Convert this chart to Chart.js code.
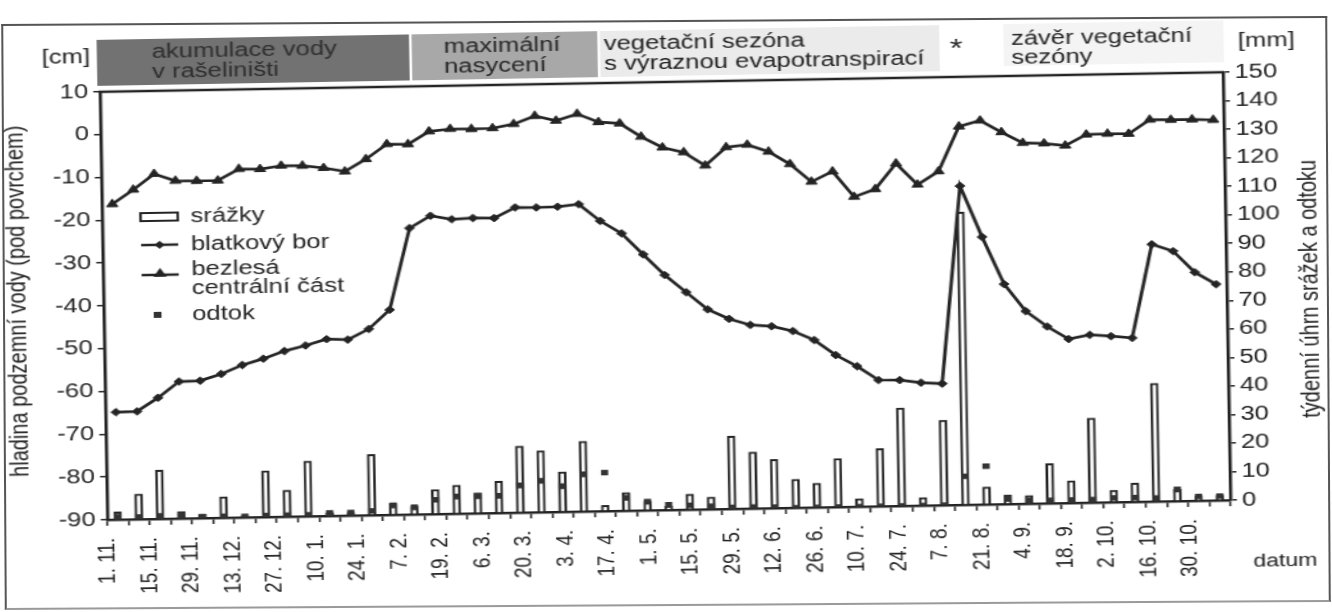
<!DOCTYPE html>
<html lang="cs">
<head>
<meta charset="utf-8">
<title>Hladina podzemní vody, srážky a odtok</title>
<script src="https://cdn.jsdelivr.net/npm/chart.js@4.4.1/dist/chart.umd.min.js"></script>
<style>
  html, body { margin: 0; padding: 0; background: #fff; overflow: hidden; }
  #page { position: relative; width: 1332px; height: 612px; overflow: hidden; background: #fff; }
  #frame { position: absolute; left: 3px; top: 20px; width: 1322px; height: 582px;
           border: 2px solid #555; border-bottom-color: #9a9a9a; transform: rotate(-0.35deg); }
  #tilt { position: absolute; left: 0; top: 0; width: 1332px; height: 612px;
          transform: rotate(-1deg); transform-origin: 666px 306px; }
  #chart { display: block; }
</style>
</head>
<body>
<div id="page">
  <div id="frame"></div>
  <div id="tilt">
    <canvas id="chart" width="1040" height="612" style="width:1332px;height:612px"></canvas>
  </div>
</div>
<script>
// weekly observation dates
const weeks = [
  '1. 11.', '8. 11.', '15. 11.', '22. 11.', '29. 11.', '6. 12.', '13. 12.', '20. 12.', '27. 12.',
  '3. 1.', '10. 1.', '17. 1.', '24. 1.', '31. 1.', '7. 2.', '13. 2.', '19. 2.', '26. 2.', '6. 3.',
  '13. 3.', '20. 3.', '27. 3.', '3. 4.', '10. 4.', '17. 4.', '24. 4.', '1. 5.', '8. 5.', '15. 5.',
  '22. 5.', '29. 5.', '5. 6.', '12. 6.', '19. 6.', '26. 6.', '3. 7.', '10. 7.', '17. 7.', '24. 7.',
  '31. 7.', '7. 8.', '14. 8.', '21. 8.', '28. 8.', '4. 9.', '11. 9.', '18. 9.', '25. 9.', '2. 10.',
  '9. 10.', '16. 10.', '23. 10.', '30. 10.'
];
// dates printed along the time axis
const dateTicks = [
  '1. 11.', '15. 11.', '29. 11.', '13. 12.', '27. 12.', '10. 1.', '24. 1.', '7. 2.', '19. 2.',
  '6. 3.', '20. 3.', '3. 4.', '17. 4.', '1. 5.', '15. 5.', '29. 5.', '12. 6.', '26. 6.',
  '10. 7.', '24. 7.', '7. 8.', '21. 8.', '4. 9.', '18. 9.', '2. 10.', '16. 10.', '30. 10.'
];

// groundwater level below surface [cm]
const blatkovyBor = [
  -64.9, -64.8, -61.7, -58.0, -57.9, -56.4, -54.4, -53.0, -51.3, -50.1, -48.7, -48.9, -46.5,
  -42.1, -23.1, -20.3, -21.2, -21.0, -21.1, -18.7, -18.8, -18.7, -18.2, -22.2, -25.2, -30.2,
  -35.1, -39.2, -43.3, -45.6, -47.1, -47.5, -48.7, -50.9, -54.5, -57.2, -60.5, -60.6, -61.3,
  -61.6, -15.5, -27.5, -38.6, -45.0, -48.7, -51.7, -50.8, -51.2, -51.7, -29.9, -31.6, -36.6, -39.5
];
const bezlesaCast = [
  -16.3, -13.0, -9.4, -11.1, -11.2, -11.2, -8.6, -8.7, -8.0, -8.1, -8.7, -9.6, -6.8,
  -3.4, -3.5, -0.6, -0.1, -0.2, -0.1, 0.8, 2.6, 1.4, 2.9, 0.9, 0.5, -2.7,
  -5.3, -6.5, -9.7, -5.5, -5.0, -6.7, -9.7, -13.9, -11.6, -17.6, -15.9, -10.0, -15.0,
  -12.0, -1.6, -0.3, -3.1, -5.7, -5.9, -6.5, -4.0, -3.9, -4.0, -0.8, -0.9, -0.9, -1.1
];

// weekly totals [mm]
const srazky = [
  2.7, 8.8, 17.1, 2.4, 1.3, 7.3, 0.5, 16.2, 9.3, 19.3, 1.1, 1.1, 21.3,
  4.0, 2.9, 8.6, 10.0, 7.2, 11.1, 23.3, 21.5, 14.0, 24.6, 2.0, 6.4, 3.2,
  1.4, 5.4, 4.3, 25.5, 19.8, 17.1, 10.0, 8.5, 17.0, 2.8, 20.2, 34.3, 2.8,
  29.8, 102.6, 6.1, 3.2, 2.9, 13.9, 7.8, 29.6, 4.2, 6.5, 41.4, 4.1, 1.8, 1.8
];
const odtok = [
  1.0, 0.8, 1.0, 1.0, 0.5, 0.5, 0.3, 0.5, 0.5, 0.5, 1.0, 1.0, 1.5,
  3.3, 2.5, 5.0, 6.0, 6.0, 6.0, 9.5, 11.0, 9.0, 13.0, 13.5, 4.5, 3.0,
  1.8, 1.5, 1.0, 0.5, 0.5, 0.3, 0, 0, 0, 0, 0, 0, 0,
  0, 10.0, 13.4, 1.8, 1.2, 1.0, 1.0, 1.0, 1.5, 1.5, 1.2, 4.1, 1.5, 1.5
];

// axis ranges
const cmRange = { min: -90, max: 10, step: 10 };
const mmRange = { min: 0, max: 150, step: 10 };

// season bands above the plot
const seasons = [
  { lines: ['akumulace vody', 'v rašeliništi'], x0: 79, x1: 323, tx: 122, fill: '#727272', ink: '#2e2e2e' },
  { lines: ['maximální', 'nasycení'], x0: 325, x1: 470, tx: 350, fill: '#a8a8a8', ink: '#262626' },
  { lines: ['vegetační sezóna', 's výraznou evapotranspirací'], x0: 472, x1: 737, tx: 475, fill: '#ebebeb', ink: '#222' }
];

const FONT = '"Liberation Sans", Arial, Helvetica, sans-serif';
const INK = '#242424';

function triangle(ctx, x, y, r) {
  ctx.beginPath();
  ctx.moveTo(x, y - r);
  ctx.lineTo(x + r * 0.866, y + r * 0.5);
  ctx.lineTo(x - r * 0.866, y + r * 0.5);
  ctx.closePath();
  ctx.fill();
}
function diamond(ctx, x, y, r) {
  ctx.beginPath();
  ctx.moveTo(x, y - r); ctx.lineTo(x + r, y); ctx.lineTo(x, y + r); ctx.lineTo(x - r, y);
  ctx.closePath();
  ctx.fill();
}

const decor = {
  id: 'decor',
  beforeDraw(chart) {
    const ctx = chart.ctx;
    ctx.save();
    ctx.textBaseline = 'middle';
    ctx.font = '20px ' + FONT;
    // season header
    seasons.forEach(s => {
      ctx.fillStyle = s.fill;
      ctx.fillRect(s.x0, 30, s.x1 - s.x0, 46);
      ctx.fillStyle = s.ink;
      ctx.textAlign = 'left';
      ctx.fillText(s.lines[0], s.tx, 43);
      ctx.fillText(s.lines[1], s.tx, 63);
    });
    ctx.fillStyle = '#f4f4f4';
    ctx.fillRect(787, 30, 172, 42);
    ctx.fillStyle = INK;
    ctx.fillText('závěr vegetační', 793, 45);
    ctx.fillText('sezóny', 793, 64);
    ctx.font = '26px ' + FONT;
    ctx.textAlign = 'center';
    ctx.fillText('*', 750, 55);
    ctx.font = '20px ' + FONT;
    ctx.textAlign = 'left';
    ctx.fillText('[cm]', 36, 47);
    ctx.fillText('[mm]', 970, 51);
    ctx.restore();
  },
  afterDraw(chart) {
    const ctx = chart.ctx;
    const a = chart.chartArea;
    ctx.save();
    // closing line along the top of the plot
    ctx.strokeStyle = INK;
    ctx.lineWidth = 2.5;
    ctx.beginPath();
    ctx.moveTo(a.left - 1, a.top);
    ctx.lineTo(a.right + 1, a.top);
    ctx.stroke();

    // legend inside the plot
    ctx.font = '20px ' + FONT;
    ctx.textBaseline = 'middle';
    ctx.textAlign = 'left';
    ctx.fillStyle = '#fff';
    ctx.lineWidth = 2;
    ctx.fillRect(111, 204, 29, 8);
    ctx.strokeRect(111, 204, 29, 8);
    ctx.lineWidth = 2.5;
    ctx.beginPath(); ctx.moveTo(111, 236); ctx.lineTo(140, 236); ctx.stroke();
    ctx.beginPath(); ctx.moveTo(111, 266); ctx.lineTo(140, 266); ctx.stroke();
    ctx.fillStyle = INK;
    diamond(ctx, 125.5, 236, 4);
    triangle(ctx, 125.5, 265, 6);
    ctx.fillStyle = '#333';
    ctx.fillRect(120, 303, 6, 6);
    ctx.fillStyle = INK;
    ctx.fillText('srážky', 150, 208);
    ctx.fillText('blatkový bor', 150, 236);
    ctx.fillText('bezlesá', 150, 261);
    ctx.fillText('centrální část', 150, 280);
    ctx.fillText('odtok', 150, 306);

    // axis titles
    ctx.font = '20px ' + FONT;
    ctx.textAlign = 'center';
    ctx.save();
    ctx.translate(14, 290);
    ctx.rotate(-Math.PI / 2);
    ctx.fillText('hladina podzemní vody (pod povrchem)', 0, 0);
    ctx.restore();
    ctx.save();
    ctx.translate(1023, 300);
    ctx.rotate(-Math.PI / 2);
    ctx.fillText('týdenní úhrn srážek a odtoku', 0, 0);
    ctx.restore();
    ctx.textAlign = 'left';
    ctx.font = '18px ' + FONT;
    ctx.fillText('datum', 975, 572);
    ctx.restore();
  }
};

const tickFont = { family: FONT, size: 20 };

new Chart(document.getElementById('chart'), {
  type: 'bar',
  data: {
    labels: weeks,
    datasets: [
      {
        type: 'line', label: 'blatkový bor', data: blatkovyBor, yAxisID: 'yCm',
        borderColor: INK, backgroundColor: INK, borderWidth: 2.7, tension: 0,
        pointStyle: 'rectRot', pointRadius: 3.8, pointBorderWidth: 1,
        pointBackgroundColor: INK, pointBorderColor: INK, order: 1
      },
      {
        type: 'line', label: 'bezlesá centrální část', data: bezlesaCast, yAxisID: 'yCm',
        borderColor: INK, backgroundColor: INK, borderWidth: 2.7, tension: 0,
        pointStyle: 'triangle', pointRadius: 5, pointBorderWidth: 1,
        pointBackgroundColor: INK, pointBorderColor: INK, order: 1
      },
      {
        type: 'bar', label: 'srážky', data: srazky, yAxisID: 'yMm',
        backgroundColor: '#ffffff', borderColor: INK, borderWidth: 2,
        barThickness: 6, order: 3
      },
      {
        type: 'line', label: 'odtok', data: odtok, yAxisID: 'yMm', showLine: false,
        pointStyle: 'rect', pointRadius: 4, pointBorderWidth: 0,
        pointBackgroundColor: '#333', borderColor: '#333', order: 0
      }
    ]
  },
  options: {
    responsive: false,
    animation: false,
    devicePixelRatio: 1,
    layout: { padding: { top: 82, left: 0, right: 0, bottom: 0 } },
    plugins: { legend: { display: false }, tooltip: { enabled: false } },
    scales: {
      x: {
        type: 'category', offset: true, weight: 0,
        grid: { display: true, drawOnChartArea: false, offset: true, tickLength: 6, color: INK, lineWidth: 1.5 },
        border: { display: true, color: INK, width: 2.5 },
        ticks: { display: false },
        afterFit(s) { s.height = 8; }
      },
      xDates: {
        type: 'category', position: 'bottom', labels: dateTicks, offset: true, weight: 1,
        grid: { display: false },
        border: { display: false },
        ticks: {
          autoSkip: false, minRotation: 90, maxRotation: 90, padding: 2, labelOffset: -16,
          color: INK, font: { family: FONT, size: 19 }
        },
        afterFit(s) { s.height = 94; }
      },
      yCm: {
        position: 'left', min: cmRange.min, max: cmRange.max,
        ticks: { stepSize: cmRange.step, color: INK, font: tickFont, padding: 4 },
        grid: { drawOnChartArea: false, tickLength: 5, color: INK, lineWidth: 1.5 },
        border: { display: true, color: INK, width: 2.5 },
        afterFit(s) { s.width = 80.8; }
      },
      yMm: {
        position: 'right', min: mmRange.min, max: mmRange.max,
        ticks: { stepSize: mmRange.step, color: INK, font: tickFont, padding: 4 },
        grid: { drawOnChartArea: false, tickLength: 5, color: INK, lineWidth: 1.5 },
        border: { display: true, color: INK, width: 2.5 },
        afterFit(s) { s.width = 82; }
      }
    }
  },
  plugins: [decor]
});
</script>
</body>
</html>
